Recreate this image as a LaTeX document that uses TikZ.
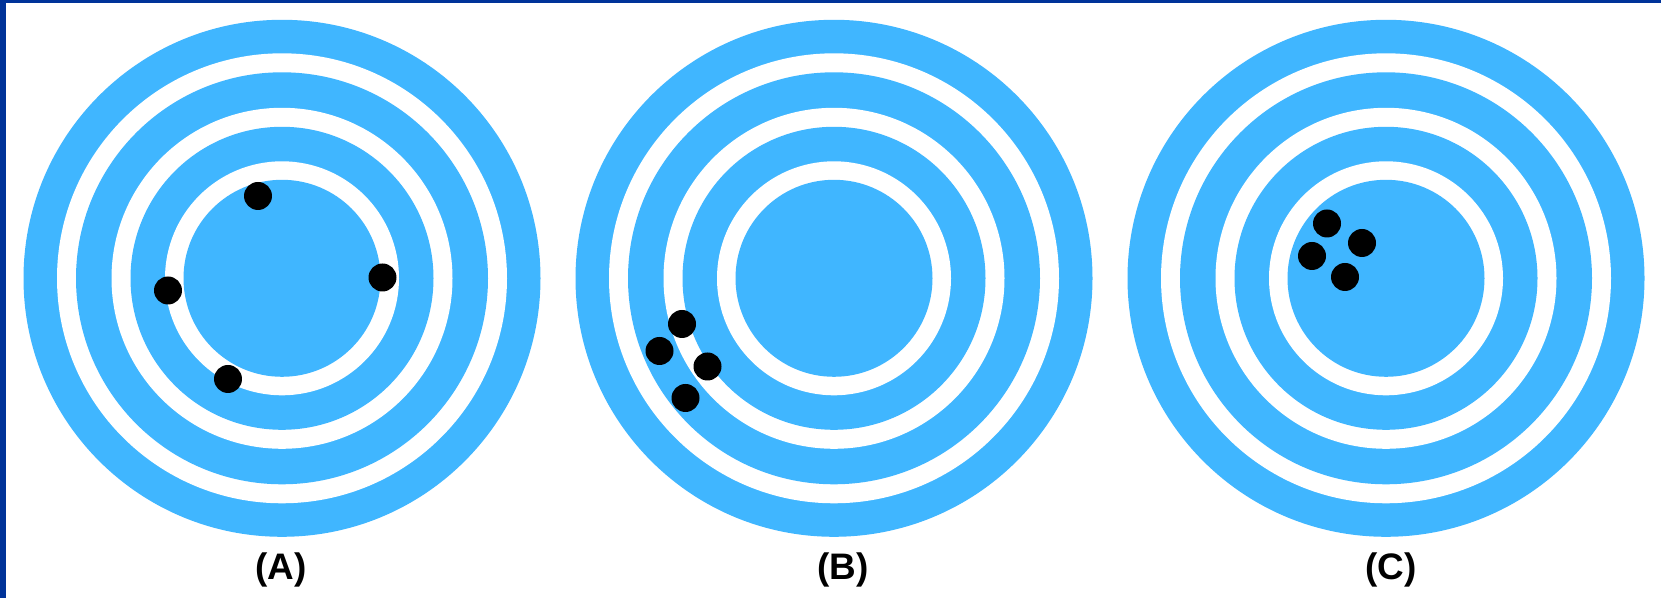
\documentclass[tikz,border=0pt]{standalone}
\usepackage{fontspec}
\setsansfont{Liberation Sans}
\usetikzlibrary{positioning}
\definecolor{tgtBlue}{HTML}{40B6FF}
\definecolor{tgtFrame}{HTML}{003399}
\definecolor{tgtHit}{HTML}{000000}
\tikzset{
    % Target centres
    tgtCentre/.style={
        circle,
        inner sep=0pt,
        minimum size=0pt
    },
    % Hits on the target
    hitDot/.style={
        circle,
        fill=tgtHit,
        inner sep=0pt,
        minimum size=0.56cm
    },
    tgtLabel/.style={
        font=\sffamily\bfseries\fontsize{21}{25}\selectfont,
        text=black,
        inner sep=0pt
    }
}

\begin{document}
\begin{tikzpicture}[x=0.02cm, y=0.02cm]
    \useasboundingbox (0,0) rectangle (1661,598);
    \fill[white] (0,0) rectangle (1661,598);
    % frame
    \fill[tgtFrame] (0,0) rectangle (6,598);
    \fill[tgtFrame] (0,595) rectangle (1661,598);

    \node[tgtCentre] (tA) at (282,319.7) {};
    \node[tgtCentre] (tB) at (834,319.7) {};
    \node[tgtCentre] (tC) at (1386,319.7) {};

    % rings, outside in
    \foreach \t in {tA, tB, tC} {
        \foreach \r/\c in {258.5/tgtBlue, 225/white, 206/tgtBlue, 170.5/white, 151.5/tgtBlue, 117/white, 98.5/tgtBlue} {
            \fill[\c] (\t) circle (\r);
        }
    }

    % (A)
    \node[hitDot] (a1) at (258,402) {};
    \node[hitDot] (a2) at (168,307.5) {};
    \node[hitDot] (a3) at (382.5,320.5) {};
    \node[hitDot] (a4) at (228,219) {};
    % (B)
    \node[hitDot] (b1) at (682,274) {};
    \node[hitDot] (b2) at (659.5,247) {};
    \node[hitDot] (b3) at (707.5,231.5) {};
    \node[hitDot] (b4) at (685.5,200) {};
    % (C)
    \node[hitDot] (c1) at (1327,374.5) {};
    \node[hitDot] (c2) at (1362,355) {};
    \node[hitDot] (c3) at (1312,342) {};
    \node[hitDot] (c4) at (1345,321) {};

    \node[tgtLabel] (lA) at (281,28) {(A)};
    \node[tgtLabel] (lB) at (843,28) {(B)};
    \node[tgtLabel] (lC) at (1391,28) {(C)};
\end{tikzpicture}
\end{document}
